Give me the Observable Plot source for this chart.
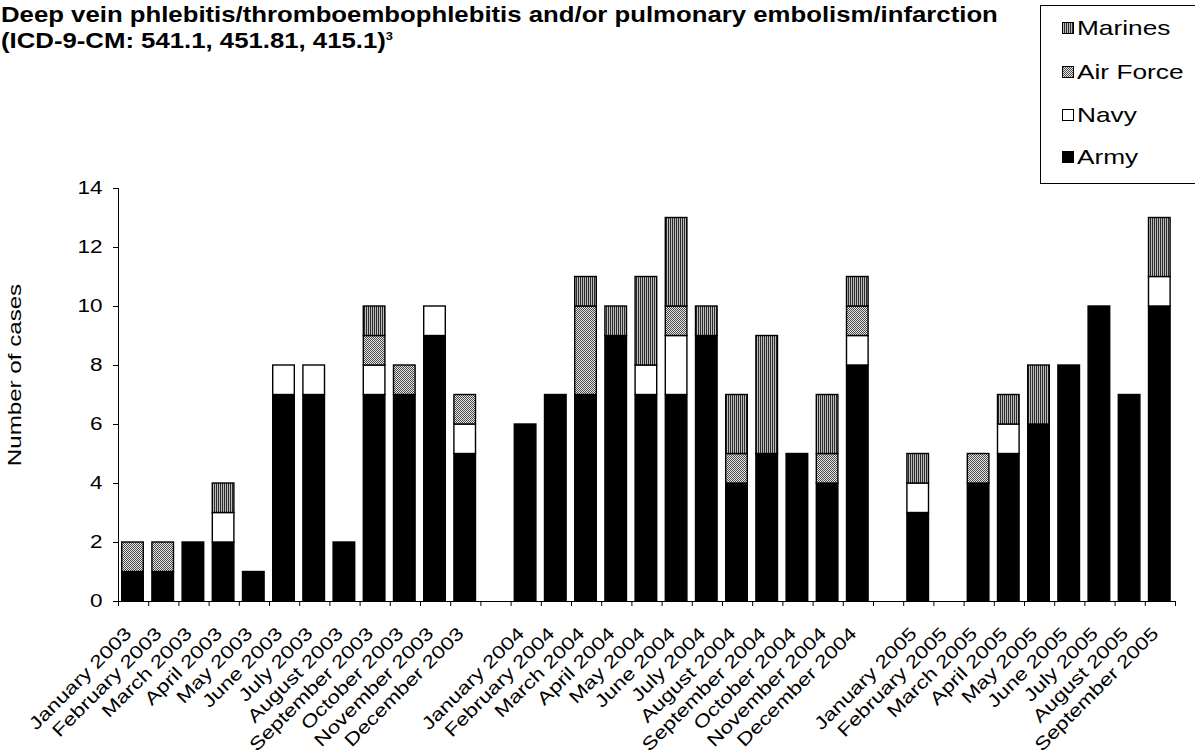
<!DOCTYPE html>
<html><head><meta charset="utf-8">
<script src="https://cdn.jsdelivr.net/npm/d3@7"></script>
<script src="https://cdn.jsdelivr.net/npm/@observablehq/plot@0.6"></script>
<style>
html,body{margin:0;padding:0;background:#fff;}
body{width:1195px;height:756px;position:relative;overflow:hidden;font-family:"Liberation Sans",Arial,sans-serif;color:#000;}
#chart{position:absolute;left:0;top:0;}
.title{position:absolute;left:1px;font-weight:bold;font-size:22px;white-space:nowrap;transform-origin:0 50%;transform:scaleX(1.17);line-height:24px;}
.title sup{font-size:11px;vertical-align:8px;line-height:0;}
#ylabel{position:absolute;left:15px;top:375px;font-size:19px;white-space:nowrap;transform:translate(-50%,-50%) rotate(-90deg) scaleX(1.27);}
#legend{position:absolute;left:1040px;top:5px;width:200px;height:177px;border:1.5px solid #000;background:#fff;}
.item{position:absolute;left:1062px;height:24px;display:flex;align-items:center;font-size:21px;white-space:nowrap;}
.item span{display:inline-block;transform:scaleX(1.25);transform-origin:0 50%;margin-left:3px;}
</style></head>
<body>
<svg width="0" height="0" style="position:absolute">
  <defs>
    <pattern id="pMarines" width="2" height="2" patternUnits="userSpaceOnUse">
      <rect width="2" height="2" fill="#bdbdbd"/><rect width="1" height="2" fill="#2a2a2a"/>
    </pattern>
    <pattern id="pAirForce" width="2" height="2" patternUnits="userSpaceOnUse">
      <rect width="2" height="2" fill="#e6e6e6"/><rect width="1" height="1" fill="#4a4a4a"/><rect x="1" y="1" width="1" height="1" fill="#4a4a4a"/>
    </pattern>
  </defs>
</svg>
<div id="chart"></div>
<div class="title" style="top:3px">Deep vein phlebitis/thromboembophlebitis and/or pulmonary embolism/infarction</div>
<div class="title" style="top:29px">(ICD-9-CM: 541.1, 451.81, 415.1)<sup>3</sup></div>
<div id="ylabel">Number of cases</div>
<div id="legend"></div>
<script>
// ---- data ----
const months = [
  "January 2003","February 2003","March 2003","April 2003","May 2003","June 2003",
  "July 2003","August 2003","September 2003","October 2003","November 2003","December 2003",
  "January 2004","February 2004","March 2004","April 2004","May 2004","June 2004",
  "July 2004","August 2004","September 2004","October 2004","November 2004","December 2004",
  "January 2005","February 2005","March 2005","April 2005","May 2005","June 2005",
  "July 2005","August 2005","September 2005"
];
const army     = [1,1,2,2,1,7,7,2,7,7,9,5, 6,7,7,9,7,7,9,4,5,5,4,8, 3,0,4,5,6,8,10,7,10];
const navy     = [0,0,0,1,0,1,1,0,1,0,1,1, 0,0,0,0,1,2,0,0,0,0,0,1, 1,0,0,1,0,0,0,0,1];
const airForce = [1,1,0,0,0,0,0,0,1,1,0,1, 0,0,3,0,0,1,0,1,0,0,1,1, 0,0,1,0,0,0,0,0,0];
const marines  = [0,0,0,1,0,0,0,0,1,0,0,0, 0,0,1,1,3,3,1,2,4,0,2,1, 1,0,0,1,2,0,0,0,2];
const services = ["Army","Navy","Air Force","Marines"];          // stacking order, bottom to top
const seriesValues = {"Army": army, "Navy": navy, "Air Force": airForce, "Marines": marines};
const legendOrder = ["Marines","Air Force","Navy","Army"];
const yTicks = [0,2,4,6,8,10,12,14];

// ---- styles ----
const fills = {"Army":"#000","Navy":"#fff","Air Force":"url(#pAirForce)","Marines":"url(#pMarines)"};

// slot index: one empty slot between years
const firstYear = +months[0].slice(-4);
const slotOf = months.map((m, i) => i + (+m.slice(-4) - firstYear));
const nSlots = slotOf[slotOf.length - 1] + 1;

const rows = [];
months.forEach((m, i) => {
  let cum = 0;
  for (const s of services) {
    const v = seriesValues[s][i];
    if (v > 0) rows.push({month: m, service: s, x1: slotOf[i], x2: slotOf[i] + 1, y1: cum, y2: cum + v});
    cum += v;
  }
});
const labelAt = new Map(months.map((m, i) => [slotOf[i] + 0.5, m]));

const plot = Plot.plot({
  width: 1195, height: 756,
  marginTop: 188, marginBottom: 155, marginLeft: 118, marginRight: 20,
  style: {fontFamily: "'Liberation Sans', Arial, sans-serif", color: "#000", background: "transparent"},
  x: {type: "linear", domain: [0, nSlots], axis: null},
  y: {domain: [0, 14], axis: null},
  marks: [
    ...services.map(s => Plot.rectY(rows.filter(d => d.service === s), {
      x1: "x1", x2: "x2", y1: "y1", y2: "y2",
      fill: fills[s], stroke: "#000", strokeWidth: 1.4,
      insetLeft: 3.7, insetRight: 4.9
    })),
    Plot.ruleX([0], {stroke: "#000", strokeWidth: 1}),
    Plot.ruleY([0], {stroke: "#000", strokeWidth: 1}),
    Plot.axisY({ticks: yTicks, tickSize: 5, tickPadding: 11, fontSize: 18, label: null, tickFormat: d => String(d)}),
    Plot.axisX({ticks: d3.range(0, nSlots + 1), tickSize: 5, tickFormat: () => "", label: null}),
    Plot.axisX({ticks: [...labelAt.keys()], tickSize: 0, tickPadding: 29, tickRotate: -45, fontSize: 18,
      tickFormat: d => labelAt.get(d), label: null, dx: -5})
  ]
});
document.getElementById("chart").appendChild(plot);

// wide-font look: stretch text along its reading direction
plot.querySelectorAll('g[aria-label="x-axis tick label"] text, g[aria-label="y-axis tick label"] text').forEach(t => {
  const tr = t.getAttribute("transform") || "";
  t.setAttribute("transform", tr + " scale(1.25,1)");
});

// legend
const itemTops = {"Marines": 16, "Air Force": 60, "Navy": 103, "Army": 145};
legendOrder.forEach(s => {
  const div = document.createElement("div");
  div.className = "item";
  div.style.top = itemTops[s] + "px";
  div.innerHTML = `<svg width="12" height="12"><rect x="0.5" y="0.5" width="11" height="11" fill="${fills[s]}" stroke="#000" stroke-width="1"/></svg><span>${s}</span>`;
  document.body.appendChild(div);
});
</script>
</body></html>
